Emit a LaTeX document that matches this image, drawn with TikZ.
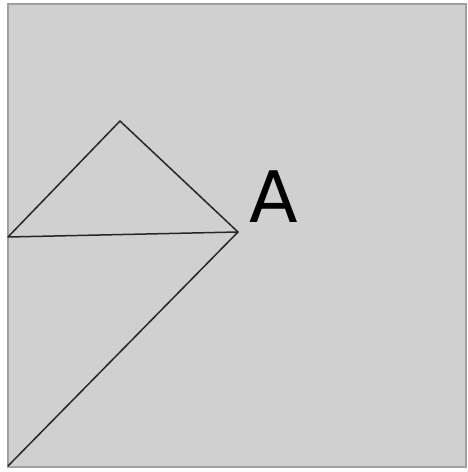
\documentclass[tikz,border=0pt]{standalone}
\usepackage{fontspec}
\setmainfont{DejaVu Sans}
\definecolor{panelfill}{HTML}{D0D0D0}
\definecolor{panelrim}{HTML}{A0A0A0}

\begin{document}
\begin{tikzpicture}[
  x=1pt,y=-1pt,
  panel/.style={draw=panelrim,line width=2pt,fill=panelfill},
  edge/.style={draw=black!85,line width=1.5pt,line join=round},
  letter/.style={inner sep=0pt,anchor=base,font=\fontsize{71}{80}\selectfont}
]
  \useasboundingbox (0,0) rectangle (468,472);
  \draw[panel] (8,4) rectangle (466,467);

  \coordinate (left) at (8,237);
  \coordinate (top) at (120,121);
  \coordinate (apex) at (238,232);
  \coordinate (foot) at (8,466);

  \draw[edge] (left) -- (top) -- (apex) -- cycle;
  \draw[edge] (apex) -- (foot);

  \node[letter] (labelA) at (274,222) {A};
\end{tikzpicture}
\end{document}
